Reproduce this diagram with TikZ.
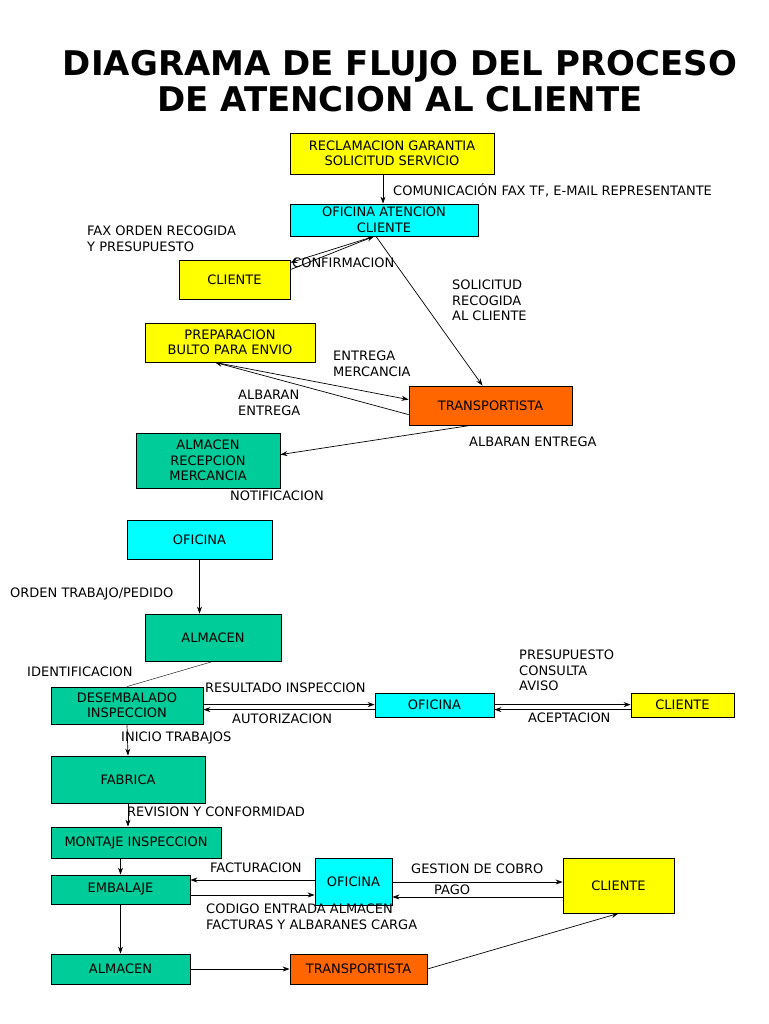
\documentclass[tikz,border=0pt]{standalone}
\usepackage{fontspec}
\setmainfont{DejaVu Sans}
\usetikzlibrary{arrows.meta}
\definecolor{cy}{HTML}{00FFFF}
\definecolor{ye}{HTML}{FFFF00}
\definecolor{gr}{HTML}{00CC99}
\definecolor{orn}{HTML}{FF6600}
\begin{document}
\begin{tikzpicture}[x=1pt,y=-1pt,
 box/.style={draw,line width=0.8pt,font=\fontsize{13}{15.5}\selectfont,align=center,inner sep=0pt},
 lb/.style={anchor=north west,font=\fontsize{13}{15.5}\selectfont,align=left,inner sep=0pt},
 ar/.style={-{Stealth[length=7pt,width=5pt]},line width=0.7pt}]
\useasboundingbox (0,0) rectangle (768,1024);
\node[font=\bfseries\fontsize{34}{36}\selectfont,align=center] (title) at (400,81) {DIAGRAMA DE FLUJO DEL PROCESO\\DE ATENCION AL CLIENTE};
\newcommand{\bx}[7]{\node[box,fill=#6,minimum width={#3-#2},minimum height={#5-#4}] (#1) at ({(#2+#3)/2},{(#4+#5)/2}) {#7};}
\bx{rec}{290}{494}{133}{174}{ye}{RECLAMACION GARANTIA\\SOLICITUD SERVICIO}
\bx{ofa}{290}{478}{204}{236}{cy}{OFICINA ATENCION\\CLIENTE}
\bx{cl1}{179}{290}{260}{299}{ye}{CLIENTE}
\bx{pre}{145}{315}{323}{362}{ye}{PREPARACION\\BULTO PARA ENVIO}
\bx{tr1}{409}{572}{386}{425}{orn}{TRANSPORTISTA}
\bx{alr}{136}{280}{433}{488}{gr}{ALMACEN\\RECEPCION\\MERCANCIA}
\bx{of1}{127}{272}{520}{559}{cy}{OFICINA}
\bx{al1}{145}{281}{614}{661}{gr}{ALMACEN}
\bx{des}{51}{203}{687}{724}{gr}{DESEMBALADO\\INSPECCION}
\bx{of2}{375}{494}{693}{717}{cy}{OFICINA}
\bx{cl2}{631}{734}{693}{717}{ye}{CLIENTE}
\bx{fab}{51}{205}{756}{803}{gr}{FABRICA}
\bx{mon}{51}{221}{827}{858}{gr}{MONTAJE INSPECCION}
\bx{emb}{51}{190}{875}{904}{gr}{EMBALAJE}
\bx{of3}{315}{392}{858}{905}{cy}{OFICINA}
\bx{cl3}{563}{674}{858}{913}{ye}{CLIENTE}
\bx{al2}{51}{190}{954}{984}{gr}{ALMACEN}
\bx{tr2}{290}{427}{954}{984}{orn}{TRANSPORTISTA}
% connectors
\draw[ar] ([xshift=-9pt]rec.south) -- ([xshift=-9pt]rec.south|-ofa.north);
\draw[ar] ([xshift=-10pt]ofa.south) -- ([yshift=-3pt]cl1.north east);
\draw[ar] ([yshift=-10pt]cl1.north east) -- ([xshift=-10pt]ofa.south);
\draw[ar] ([xshift=-8pt]ofa.south) -- ([xshift=-8pt]tr1.north);
\draw[ar] ([xshift=-15pt]pre.south) -- ([yshift=-14pt]tr1.north west);
\draw[ar] ([yshift=-29pt]tr1.north west) -- ([xshift=-15pt]pre.south);
\draw[ar] ([xshift=-20pt]tr1.south) -- ([yshift=-22pt]alr.north east);
\draw[ar] (of1.south) -- (al1.north-|of1.south);
\draw (al1.south) -- (des.north);
\draw[ar] ([yshift=-18pt]des.north east) -- ([yshift=-12pt]of2.north west);
\draw[ar] ([yshift=-17pt]of2.north west) -- ([yshift=-23pt]des.north east);
\draw[ar] ([yshift=-12pt]of2.north east) -- ([yshift=-12pt]cl2.north west);
\draw[ar] ([yshift=-17pt]cl2.north west) -- ([yshift=-17pt]of2.north east);
\draw[ar] (des.south) -- (fab.north);
\draw[ar] (fab.south) -- (fab.south|-mon.north);
\draw[ar] (mon.south-|emb.south) -- (emb.north);
\draw[ar] (of3.west|-0,880) -- (emb.east|-0,880);
\draw[ar] (emb.east|-0,895) -- (of3.west|-0,895);
\draw[ar] (of3.east|-0,882) -- (cl3.west|-0,882);
\draw[ar] (cl3.west|-0,897) -- (of3.east|-0,897);
\draw[ar] (emb.south) -- (al2.north);
\draw[ar] (al2.east) -- (tr2.west);
\draw[ar] (tr2.east) -- (cl3.south);
% labels
\node[lb] (l1) at (393,183) {COMUNICACIÓN FAX TF, E-MAIL REPRESENTANTE};
\node[lb] (l2) at (87,226) {FAX ORDEN RECOGIDA\\ Y PRESUPUESTO};
\node[lb] (l3) at (292,258) {CONFIRMACION};
\node[lb] (l4) at (452,280) {SOLICITUD\\RECOGIDA\\AL CLIENTE};
\node[lb] (l5) at (333,351) {ENTREGA\\ MERCANCIA};
\node[lb] (l6) at (238,390) {ALBARAN\\ENTREGA};
\node[lb] (l7) at (469,437) {ALBARAN ENTREGA};
\node[lb] (l8) at (230,491) {NOTIFICACION};
\node[lb] (l9) at (10,588) {ORDEN TRABAJO/PEDIDO};
\node[lb] (l10) at (27,667) {IDENTIFICACION};
\node[lb] (l11) at (205,683) {RESULTADO INSPECCION};
\node[lb] (l12) at (232,714) {AUTORIZACION};
\node[lb] (l13) at (519,650) {PRESUPUESTO\\CONSULTA\\AVISO};
\node[lb] (l14) at (528,713) {ACEPTACION};
\node[lb] (l15) at (121,732) {INICIO TRABAJOS};
\node[lb] (l16) at (127,807) {REVISION Y CONFORMIDAD};
\node[lb] (l17) at (210,863) {FACTURACION};
\node[lb] (l18) at (206,904) {CODIGO ENTRADA ALMACEN\\FACTURAS Y ALBARANES CARGA};
\node[lb] (l19) at (411,864) {GESTION DE COBRO};
\node[lb] (l20) at (434,885) {PAGO};
\end{tikzpicture}
\end{document}
